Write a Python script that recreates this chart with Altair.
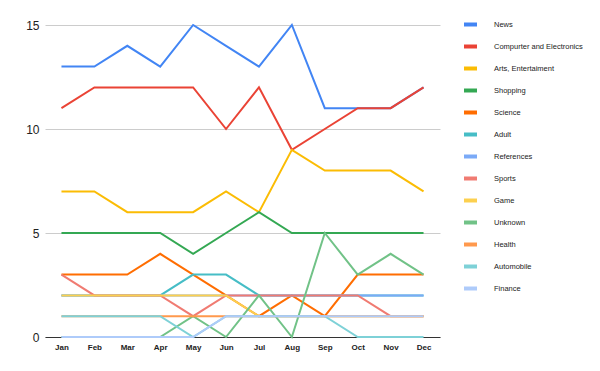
import altair as alt
import pandas as pd

months = ["Jan", "Feb", "Mar", "Apr", "May", "Jun", "Jul", "Aug", "Sep", "Oct", "Nov", "Dec"]
series_names = ["News", "Compurter and Electronics", "Arts, Entertaiment", "Shopping", "Science",
                "Adult", "References", "Sports", "Game", "Unknown", "Health", "Automobile", "Finance"]
colors = ["#4285F4", "#EA4335", "#FBBC04", "#34A853", "#FF6D01", "#46BDC6", "#7BAAF7",
          "#F07B72", "#FCD04F", "#71C287", "#FF994D", "#7ED1D7", "#AECBFA"]

news = [13, 13, 14, 13, 15, 14, 13, 15, 11, 11, 11, 12]
computer = [11, 12, 12, 12, 12, 10, 12, 9, 10, 11, 11, 12]
arts = [7, 7, 6, 6, 6, 7, 6, 9, 8, 8, 8, 7]
shopping = [5, 5, 5, 5, 4, 5, 6, 5, 5, 5, 5, 5]
science = [3, 3, 3, 4, 3, 2, 1, 2, 1, 3, 3, 3]
adult = [2, 2, 2, 2, 3, 3, 2, 2, 2, 2, 2, 2]
references = [2, 2, 2, 2, 2, 2, 2, 2, 2, 2, 2, 2]
sports = [3, 2, 2, 2, 1, 2, 2, 2, 2, 2, 1, 1]
game = [2, 2, 2, 2, 2, 2, 1, 1, 1, 1, 1, 1]
unknown = [0, 0, 0, 0, 1, 0, 2, 0, 5, 3, 4, 3]
health = [1, 1, 1, 1, 1, 1, 1, 1, 1, 1, 1, 1]
automobile = [1, 1, 1, 1, 0, 1, 1, 1, 1, 0, 0, 0]
finance = [0, 0, 0, 0, 0, 1, 1, 1, 1, 1, 1, 1]

all_values = [news, computer, arts, shopping, science, adult, references, sports,
              game, unknown, health, automobile, finance]

rows = []
for i, (name, vals) in enumerate(zip(series_names, all_values)):
    for m, v in zip(months, vals):
        rows.append({"month": m, "value": v, "series": name, "ord": i})
df = pd.DataFrame(rows)

font = "Liberation Sans"

chart = alt.Chart(df).mark_line(strokeWidth=2).encode(
    x=alt.X("month:N", sort=months, title=None,
            scale=alt.Scale(type="point", padding=0.5),
            axis=alt.Axis(labelAngle=0, ticks=False, grid=False, domainColor="#333333",
                          labelFontSize=8, labelFontWeight="bold", labelColor="#222222",
                          labelFont=font, labelPadding=6, domainWidth=1)),
    y=alt.Y("value:Q", title=None,
            scale=alt.Scale(domain=[0, 15], nice=False),
            axis=alt.Axis(values=[0, 5, 10, 15], ticks=False, domain=False, gridColor="#cccccc",
                          labelFontSize=12, labelColor="#222222", labelFont=font, labelPadding=6)),
    color=alt.Color("series:N", sort=series_names,
                    scale=alt.Scale(domain=series_names, range=colors),
                    legend=alt.Legend(title=None, orient="none", legendX=417, legendY=-9,
                                      symbolType="stroke", symbolSize=169, symbolStrokeWidth=4,
                                      labelFontSize=7.5, labelFont=font, labelColor="#222222",
                                      labelOffset=15, rowPadding=5, padding=0)),
    order=alt.Order("ord:Q"),
    detail="ord:N",
).properties(
    width=395, height=312,
    autosize=alt.AutoSizeParams(type="none"),
    padding={"left": 37, "top": 17, "right": 152, "bottom": 26},
).configure_view(stroke=None)

chart.save("out.html", embed_options={"renderer": "svg", "actions": False})
